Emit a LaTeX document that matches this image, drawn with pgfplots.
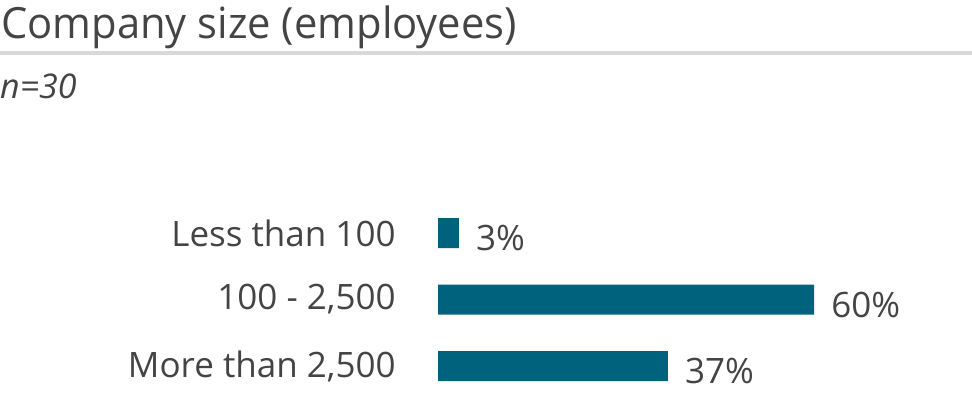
\documentclass[border=0pt]{standalone}
\usepackage{pgfplots}
\pgfplotsset{compat=1.18}
\usepackage{fontspec}
\setmainfont{Open Sans}
\definecolor{barc}{HTML}{00627D}
\definecolor{txt}{HTML}{444444}
\definecolor{rule}{HTML}{D9D9D9}
\begin{document}
\begin{tikzpicture}[x=1bp,y=1bp]
\path[use as bounding box] (0,0) rectangle (972,393);
\node[anchor=base west, inner sep=0pt, text=txt, xscale=0.97, font=\fontsize{43bp}{50bp}\selectfont] at (1,355) {Company size (employees)};
\fill[rule] (0,338) rectangle (972,342);
\node[anchor=base west, inner sep=0pt, text=txt, font=\fontsize{34bp}{40bp}\selectfont\itshape] at (0,295) {n=30};
\begin{axis}[
  at={(438bp,-6.25bp)}, anchor=south west,
  scale only axis, width=534bp, height=199.5bp,
  xmin=0, xmax=85.2, ymin=-0.5, ymax=2.5,
  xbar, bar width=30bp,
  axis line style={draw=none}, tick style={draw=none},
  xtick=\empty, ytick={0,1,2},
  yticklabels={More than 2{,}500, 100 - 2{,}500, Less than 100},
  yticklabel style={anchor=east, inner sep=0pt, xshift=-38bp, text=txt, font=\fontsize{35bp}{40bp}\selectfont},
  point meta=explicit symbolic,
  nodes near coords,
  nodes near coords style={anchor=west, inner sep=0pt, xshift=17bp, yshift=-5bp, text=txt, font=\fontsize{35bp}{40bp}\selectfont},
  clip=false,
]
\addplot[fill=barc, draw=none] coordinates {(36.67,0)[37\%] (60,1)[60\%] (3.33,2)[3\%]};
\end{axis}
\end{tikzpicture}
\end{document}
